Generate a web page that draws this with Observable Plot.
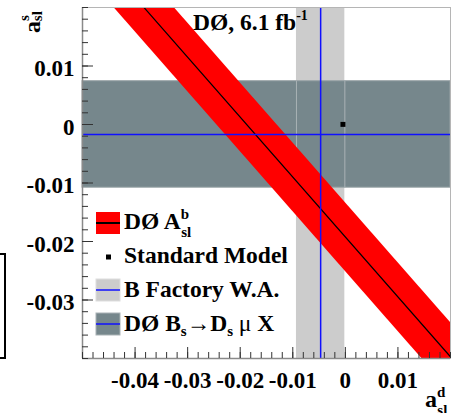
<!DOCTYPE html>
<html>
<head>
<meta charset="utf-8">
<script src="https://cdn.jsdelivr.net/npm/d3@7"></script>
<script src="https://cdn.jsdelivr.net/npm/@observablehq/plot@0.6"></script>
<style>
  body { margin: 0; background: #fff; }
  #wrap { position: relative; width: 452px; height: 413px; overflow: hidden; }
  #box { position: absolute; left: -10px; top: 253px; width: 16px; height: 106px; border: 2px solid #000; box-sizing: border-box; }
</style>
</head>
<body>
<div id="wrap"><div id="box"></div></div>
<script>
// ---- axes ----
const xDomain = [-0.05, 0.02];
const yDomain = [-0.04, 0.02];
const xMajor = [-0.04, -0.03, -0.02, -0.01, 0, 0.01];
const xLabels = ["-0.04", "-0.03", "-0.02", "-0.01", "0", "0.01"];
const yMajor = [-0.03, -0.02, -0.01, 0, 0.01];
const yLabels = ["-0.03", "-0.02", "-0.01", "0", "0.01"];
const minorStep = 0.002;

// ---- measurements ----
const legendNames = ["DØ A_sl^b", "Standard Model", "B Factory W.A.", "DØ Bs→Ds μ X"];
// DØ A_sl^b = w_d * a_sl^d + w_s * a_sl^s
const ablValue = -0.0095;
const ablError = 0.0029;
const ablWeights = [0.506, 0.494];
// B factory world average of a_sl^d
const bfValue = -0.0047;
const bfError = 0.0046;
// DØ Bs -> Ds mu X measurement of a_sl^s
const dsmuValue = -0.0017;
const dsmuError = 0.0091;
// Standard Model prediction (a_sl^d, a_sl^s)
const smPoint = [-0.00046, 0.00002];

const xMinor = d3.range(Math.round((xDomain[1] - xDomain[0]) / minorStep) + 1).map(i => +(xDomain[0] + i * minorStep).toFixed(4));
const yMinor = d3.range(Math.round((yDomain[1] - yDomain[0]) / minorStep) + 1).map(i => +(yDomain[0] + i * minorStep).toFixed(4));

const W = 452, H = 413, mL = 82, mR = 2, mT = 7, mB = 55;
const plotW = W - mL - mR, plotH = H - mT - mB;

const bfBand = [{x1: bfValue - bfError, x2: bfValue + bfError}];
const dsmuBand = [{y1: dsmuValue - dsmuError, y2: dsmuValue + dsmuError}];
const ablLine = xDomain.map(ad => ({
  ad,
  lo: (ablValue - ablError - ablWeights[0] * ad) / ablWeights[1],
  mid: (ablValue - ablWeights[0] * ad) / ablWeights[1],
  hi: (ablValue + ablError - ablWeights[0] * ad) / ablWeights[1]
}));
const sm = [{x: smPoint[0], y: smPoint[1]}];

const gray = "#76878c";
const light = "#cccccc";
const FONT = "'Liberation Serif', 'Times New Roman', serif";

const chart = Plot.plot({
  width: W, height: H,
  marginLeft: mL, marginRight: mR, marginTop: mT, marginBottom: mB,
  x: {domain: xDomain},
  y: {domain: yDomain},
  style: {fontFamily: FONT, background: "white", color: "black"},
  marks: [
    Plot.rect(bfBand, {x1: "x1", x2: "x2", y1: yDomain[0], y2: yDomain[1], fill: light}),
    Plot.rect(dsmuBand, {x1: xDomain[0], x2: xDomain[1], y1: "y1", y2: "y2", fill: gray, stroke: "#98a3a6", strokeWidth: 1}),
    Plot.ruleX([bfValue - bfError, bfValue + bfError], {y1: dsmuValue - dsmuError, y2: dsmuValue + dsmuError, stroke: "#a9b2b5", strokeWidth: 1}),
    Plot.areaY(ablLine, {x: "ad", y1: "lo", y2: "hi", fill: "#ff0000", clip: true}),
    Plot.line(ablLine, {x: "ad", y: "mid", stroke: "black", strokeWidth: 1.2, clip: true}),
    Plot.ruleX([bfValue], {stroke: "#1010ff", strokeWidth: 1.5}),
    Plot.ruleY([dsmuValue], {stroke: "#1010ff", strokeWidth: 1.5}),
    Plot.dot(sm, {x: "x", y: "y", symbol: "square", r: 2.8, fill: "black"}),
    Plot.frame({stroke: "#b5b5b5"}),
    Plot.ruleX([xDomain[0]], {stroke: "#8a8a8a", strokeWidth: 1.5}),
    Plot.ruleY([yDomain[0]], {stroke: "#8a8a8a", strokeWidth: 1.5}),
    Plot.tickX(xMinor, {x: d => d, insetTop: plotH - 6, stroke: "#333"}),
    Plot.tickX(xMajor, {x: d => d, insetTop: plotH - 11, stroke: "#333"}),
    Plot.tickY(yMinor, {y: d => d, insetRight: plotW - 6, stroke: "#333"}),
    Plot.tickY(yMajor, {y: d => d, insetRight: plotW - 11, stroke: "#333"}),
    Plot.axisX({ticks: xMajor, tickFormat: d => xLabels[xMajor.indexOf(d)], tickSize: 0, tickPadding: 13, fontSize: 23, fontWeight: "bold", label: null}),
    Plot.axisY({ticks: yMajor, tickFormat: d => yLabels[yMajor.indexOf(d)], tickSize: 0, tickPadding: 8, fontSize: 23, fontWeight: "bold", dy: 3, label: null})
  ]
});

document.getElementById("wrap").appendChild(chart);

const svg = d3.select(chart);
const g = svg.append("g")
  .attr("font-family", FONT)
  .attr("font-weight", "bold")
  .attr("text-anchor", "start")
  .attr("fill", "black");

// Title
const t = g.append("text").attr("x", 193).attr("y", 30).attr("font-size", 23.5).text("DØ, 6.1 fb");
t.append("tspan").attr("font-size", 14).attr("dy", -10).text("-1");

// Y axis title (rotated)
const ya = g.append("text").attr("transform", "translate(40,33) rotate(-90)").attr("font-size", 24).text("a");
ya.append("tspan").attr("font-size", 15).attr("dy", -11).text("s");
ya.append("tspan").attr("font-size", 15).attr("dx", -6).attr("dy", 13).text("sl");

// X axis title
const xa = g.append("text").attr("x", 425).attr("y", 407).attr("font-size", 24).text("a");
xa.append("tspan").attr("font-size", 15).attr("dy", -10).text("d");
xa.append("tspan").attr("font-size", 15).attr("dx", -8).attr("dy", 18).text("sl");

// Legend
const sw = 24, sh = 22, lx = 96, tx = 124;
const centers = [223, 257, 290, 324];
g.append("rect").attr("x", lx).attr("y", centers[0] - sh / 2).attr("width", sw).attr("height", sh).attr("fill", "#ff0000");
g.append("line").attr("x1", lx).attr("x2", lx + sw).attr("y1", centers[0]).attr("y2", centers[0]).attr("stroke", "black").attr("stroke-width", 2);
g.append("rect").attr("x", 106).attr("y", centers[1] - 2.5).attr("width", 5).attr("height", 5).attr("fill", "black");
g.append("rect").attr("x", lx).attr("y", centers[2] - sh / 2).attr("width", sw).attr("height", sh).attr("fill", light).attr("stroke", "#dedede");
g.append("line").attr("x1", lx).attr("x2", lx + sw).attr("y1", centers[2]).attr("y2", centers[2]).attr("stroke", "#1010ff").attr("stroke-width", 1.5);
g.append("rect").attr("x", lx).attr("y", centers[3] - sh / 2).attr("width", sw).attr("height", sh).attr("fill", gray).attr("stroke", "#a9b2b5");
g.append("line").attr("x1", lx).attr("x2", lx + sw).attr("y1", centers[3]).attr("y2", centers[3]).attr("stroke", "#1010ff").attr("stroke-width", 1.5);

const l1 = g.append("text").attr("x", tx).attr("y", 229).attr("font-size", 23.5).text("DØ A");
l1.append("tspan").attr("font-size", 15).attr("dy", -10).text("b");
l1.append("tspan").attr("font-size", 15).attr("dx", -8).attr("dy", 18).text("sl");

g.append("text").attr("x", tx).attr("y", 263).attr("font-size", 23.5).text(legendNames[1]);
g.append("text").attr("x", tx).attr("y", 296.5).attr("font-size", 23.5).text(legendNames[2]);

const l4 = g.append("text").attr("x", tx).attr("y", 331).attr("font-size", 23.5).text("DØ B");
l4.append("tspan").attr("font-size", 15).attr("dy", 5).text("s");
l4.append("tspan").attr("dy", -5).text("→D");
l4.append("tspan").attr("font-size", 15).attr("dy", 5).text("s");
l4.append("tspan").attr("dy", -5).attr("font-weight", "normal").text(" μ ");
l4.append("tspan").text("X");
</script>
</body>
</html>
